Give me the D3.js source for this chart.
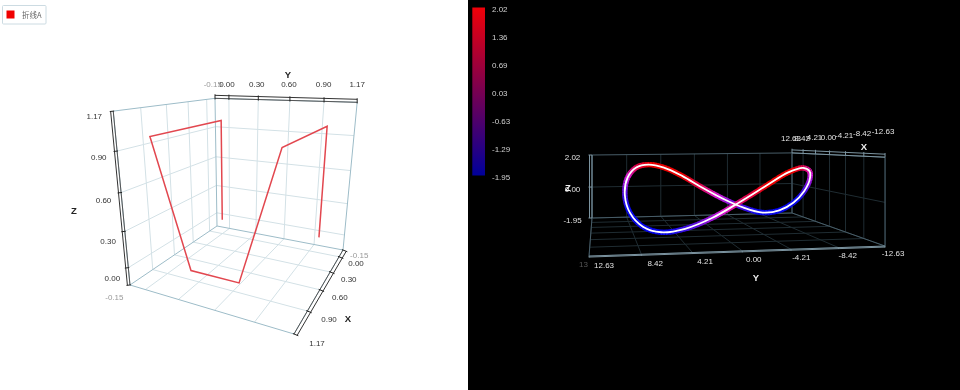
<!DOCTYPE html>
<html><head><meta charset="utf-8"><script src="https://cdn.jsdelivr.net/npm/d3@7"></script>
<style>html,body{margin:0;background:#fff;overflow:hidden}svg{display:block;filter:blur(0.35px)}text{font-family:"Liberation Sans",Arial,sans-serif}</style></head>
<body><svg id="c" width="960" height="390"></svg>
<script>
// ---- left chart data
const legendName="折线A";
const leftTicks=[0,0.3,0.6,0.9,1.17];
const leftMin=-0.15, leftMax=1.17;
const leftX=[0,0,1,1,1,1,0,0];
const leftY=[0,0,0,0.3,0.7,0.98,0.98,0.98];
const leftZ=[0,0.985,0.985,0,0,0.985,0.985,0];
// ---- right chart data
const rightTicks=[12.63,8.42,4.21,0,-4.21,-8.42,-12.63];
const rightZTicks=[2.02,0,-1.95];
const barTicks=[2.02,1.36,0.69,0.03,-0.63,-1.29,-1.95];
const curveX=[0,2.59,5,7.07,8.66,9.66,10,9.66,8.66,7.07,5,2.59,0,-2.59,-5,-7.07,-8.66,-9.66,-10,-9.66,-8.66,-7.07,-5,-2.59];
const curveY=[9.2,8.8,7.73,6.22,4.25,1.96,-0.5,-2.96,-5.25,-7.22,-8.6,-9.5,-9.8,-9.5,-8.6,-7.22,-5.25,-2.96,-0.5,1.96,4.25,6.22,7.73,8.8];
const curveZ=[0,0.85,1.35,1.47,1.25,0.7,-0.05,-0.75,-1.28,-1.53,-1.3,-0.72,0.02,0.78,1.25,1.47,1.3,0.75,0.05,-0.68,-1.22,-1.47,-1.33,-0.8];

const svg=d3.select("#c");
const project=(M,u,v,w)=>{const d=M[2][0]*u+M[2][1]*v+M[2][2]*w+1;
  return [(M[0][0]*u+M[0][1]*v+M[0][2]*w+M[0][3])/d,(M[1][0]*u+M[1][1]*v+M[1][2]*w+M[1][3])/d];};
const seg=(g,a,b,col,sw)=>g.append("line").attr("x1",a[0]).attr("y1",a[1]).attr("x2",b[0]).attr("y2",b[1]).attr("stroke",col).attr("stroke-width",sw);
const label=(g,p,txt,col,size=8,weight="normal")=>g.append("text").attr("x",p[0]).attr("y",p[1]).attr("dy","0.35em").attr("text-anchor","middle").attr("font-size",size).attr("font-weight",weight).attr("fill",col).text(txt);
const fmt=t=>t.toFixed(2);

// ================= LEFT
(function(){
 const g=svg.append("g");
 const M=[[-122.5,78.55,-23.5,217],[-18.82,-10.58,-137.5,226],[-0.27304,-0.13834,-0.1,1]];
 const s=d3.scaleLinear().domain([leftMin,leftMax]).range([0,1]);
 const P=(x,y,z)=>project(M,s(x),s(y),s(z));
 const lo=leftMin,hi=leftMax,gridC="#d3e1e6",edgeC="#9dbcc8";
 [0,0.3,0.6,0.9].forEach(t=>{
  seg(g,P(t,lo,lo),P(t,hi,lo),gridC,1);
  seg(g,P(lo,t,lo),P(hi,t,lo),gridC,1);
  seg(g,P(lo,t,lo),P(lo,t,hi),gridC,1);
  seg(g,P(t,lo,lo),P(t,lo,hi),gridC,1);
  seg(g,P(lo,lo,t),P(lo,hi,t),gridC,1);
  seg(g,P(lo,lo,t),P(hi,lo,t),gridC,1);
 });
 [[[lo,lo,lo],[lo,hi,lo]],[[lo,hi,lo],[hi,hi,lo]],[[hi,hi,lo],[hi,lo,lo]],[[hi,lo,lo],[lo,lo,lo]],
  [[lo,lo,lo],[lo,lo,hi]],[[lo,hi,lo],[lo,hi,hi]],[[hi,lo,lo],[hi,lo,hi]],[[lo,lo,hi],[lo,hi,hi]],[[lo,lo,hi],[hi,lo,hi]]]
  .forEach(e=>seg(g,P(...e[0]),P(...e[1]),edgeC,1));
 const axis=(f,off,ticks)=>{
  const a=f(lo),b=f(hi),sh=p=>[p[0]+off[0],p[1]+off[1]];
  seg(g,a,b,"#555",1);seg(g,sh(a),sh(b),"#333",1);
  ticks.forEach(t=>{const p=f(t);seg(g,[p[0]-off[0]*.35,p[1]-off[1]*.35],[p[0]+off[0]*1.35,p[1]+off[1]*1.35],"#222",1);});
 };
 axis(z=>P(hi,lo,z),[-2.6,0.3],[lo,...leftTicks]);
 axis(x=>P(x,hi,lo),[3.2,1.3],[lo,...leftTicks]);
 axis(y=>P(lo,y,hi),[0,-3],[lo,...leftTicks]);
 const line=d3.line().x(d=>d[0]).y(d=>d[1]);
 g.append("path").attr("d",line(leftX.map((x,i)=>P(x,leftY[i],leftZ[i])))).attr("fill","none").attr("stroke","#e2474f").attr("stroke-width",1.5);
 const dz=[d3.scaleLinear().domain([0,1.17]).range([-16,-19]),d3.scaleLinear().domain([0,1.17]).range([11,5])];
 const dx=[d3.scaleLinear().domain([0,1.17]).range([17,23]),d3.scaleLinear().domain([0,1.17]).range([6,9])];
 const dy=[d3.scaleLinear().domain([0,1.17]).range([-2,0]),d3.scaleLinear().domain([0,1.17]).range([-15,-18])];
 const fade="#999",txt="#333";
 [lo,...leftTicks].forEach(t=>{
  const c=t===lo?fade:txt;
  let p=P(hi,lo,t);label(g,[p[0]+dz[0](t),p[1]+dz[1](t)],fmt(t),c);
  p=P(t,hi,lo);label(g,[p[0]+dx[0](t),p[1]+dx[1](t)],fmt(t),c);
  p=P(lo,t,hi);label(g,[p[0]+dy[0](t),p[1]+dy[1](t)],fmt(t),c);
 });
 label(g,[74,211],"Z","#222",9.5,"bold");label(g,[348,319],"X","#222",9.5,"bold");label(g,[288,75],"Y","#222",9.5,"bold");
 g.append("rect").attr("x",2.5).attr("y",5.5).attr("width",43.5).attr("height",18.5).attr("rx",1).attr("fill","#fff").attr("stroke","#ccdbe2");
 g.append("rect").attr("x",6.5).attr("y",10.5).attr("width",8).attr("height",8).attr("fill","#f00000");
 g.append("text").attr("x",22).attr("y",15).attr("dy","0.35em").attr("font-size",7.5).attr("fill","#666").style("font-family",'"Noto Sans CJK SC"').text(legendName);
})();

// ================= RIGHT
(function(){
 const g=svg.append("g");
 g.append("rect").attr("x",468).attr("y",0).attr("width",492).attr("height",390).attr("fill","#000");
 const M=[[-203,238.5,0,592],[-48.9,5.35,-63,218],[-0.3396,0.0486,0,1]];
 const sx=d3.scaleLinear().domain([12.63,-12.63]).range([0,1]);
 const sz=d3.scaleLinear().domain([-1.95,2.02]).range([0,1]);
 const P=(x,y,z)=>project(M,sx(x),sx(y),sz(z));
 const H=12.63,ZL=-1.95,ZH=2.02,gridC="#1f2c32",edgeC="#485d68";
 rightTicks.forEach(t=>{
  seg(g,P(t,H,ZL),P(t,-H,ZL),gridC,1);
  seg(g,P(H,t,ZL),P(-H,t,ZL),gridC,1);
  seg(g,P(H,t,ZL),P(H,t,ZH),gridC,1);
  seg(g,P(t,-H,ZL),P(t,-H,ZH),gridC,1);
 });
 seg(g,P(H,H,0),P(H,-H,0),gridC,1);seg(g,P(H,-H,0),P(-H,-H,0),gridC,1);
 [[[H,H,ZL],[H,-H,ZL]],[[H,-H,ZL],[-H,-H,ZL]],[[H,H,ZL],[-H,H,ZL]],[[H,H,ZL],[H,H,ZH]],[[H,-H,ZL],[H,-H,ZH]],[[-H,-H,ZL],[-H,-H,ZH]],[[H,H,ZH],[H,-H,ZH]],[[H,-H,ZH],[-H,-H,ZH]]]
  .forEach(e=>seg(g,P(...e[0]),P(...e[1]),edgeC,1));
 const axC="#7c94a0";
 const axis=(a,b,off,pts)=>{const sh=p=>[p[0]+off[0],p[1]+off[1]];seg(g,a,b,axC,1);seg(g,sh(a),sh(b),axC,1);
   pts.forEach(p=>seg(g,p,[p[0]+off[0]*1.4,p[1]+off[1]*1.4],axC,1));};
 axis(P(H,H,ZL),P(H,H,ZH),[-2.5,0],rightZTicks.map(z=>P(H,H,z)));
 axis(P(H,-H,ZH),P(-H,-H,ZH),[0,-3],rightTicks.map(t=>P(t,-H,ZH)));
 axis(P(-H,H,ZL),P(-H,-H,ZL),[0,1],rightTicks.map(t=>P(-H,t,ZL)));
 const txt="#e2e2e2";
 const ox=[d3.scaleLinear().domain([12.63,0,-12.63]).range([-1,-1,-2]),d3.scaleLinear().domain([12.63,0,-12.63]).range([-15,-17,-26])];
 const oy=[d3.scaleLinear().domain([12.63,-12.63]).range([15,8]),d3.scaleLinear().domain([12.63,-12.63]).range([9,7])];
 rightTicks.forEach(t=>{
  let p=P(t,-H,ZH);label(g,[p[0]+ox[0](t),p[1]+ox[1](t)],fmt(t),txt);
  p=P(-H,t,ZL);label(g,[p[0]+oy[0](t),p[1]+oy[1](t)],fmt(t),txt);
 });
 rightZTicks.forEach(t=>{const p=P(H,H,t);label(g,[p[0]-19.5,p[1]+2.4],fmt(t),txt);});
 label(g,[583.5,264],"13","#555");
 label(g,[568,188],"Z","#eee",9.5,"bold");label(g,[864,147],"X","#eee",9.5,"bold");label(g,[756,278],"Y","#eee",9.5,"bold");
 const defs=svg.append("defs");
 defs.append("filter").attr("id","glow").attr("x","-10%").attr("y","-10%").attr("width","120%").attr("height","120%").append("feGaussianBlur").attr("stdDeviation",0.6);
 const grad=defs.append("linearGradient").attr("id","bar").attr("x1",0).attr("y1",0).attr("x2",0).attr("y2",1);
 grad.append("stop").attr("offset",0).attr("stop-color","#f00008");
 grad.append("stop").attr("offset",1).attr("stop-color","#00009a");
 const pts=curveX.map((x,i)=>P(x,curveY[i],curveZ[i]));
 const closed=d3.line().curve(d3.curveCatmullRomClosed.alpha(0.5));
 const dAttr=closed(pts);
 const hidden=g.append("path").attr("d",dAttr).attr("fill","none").node();
 const total=hidden.getTotalLength();
 const cum=[0];pts.forEach((p,i)=>{const q=pts[(i+1)%pts.length];cum.push(cum[i]+Math.hypot(q[0]-p[0],q[1]-p[1]));});
 const lenToZ=d3.scaleLinear().domain(cum.map(c=>c/cum[cum.length-1]*total)).range([...curveZ,curveZ[0]]);
 const colour=d3.scaleLinear().domain([-1.2,-0.6,0,0.6,1.2]).range(["#0808f0","#6a10e0","#d818d8","#e00850","#f00000"]).clamp(true);
 const glow=g.append("g").attr("filter","url(#glow)");
 const step=1.5;
 d3.range(0,total,step).forEach(l=>{
  const a=hidden.getPointAtLength(l),b=hidden.getPointAtLength(Math.min(total,l+step+.3));
  glow.append("line").attr("x1",a.x).attr("y1",a.y).attr("x2",b.x).attr("y2",b.y).attr("stroke",colour(lenToZ(l))).attr("stroke-width",5.4);
 });
 g.append("path").attr("d",dAttr).attr("fill","none").attr("stroke","#fff").attr("stroke-width",1.8);
 g.append("rect").attr("x",472.3).attr("y",7.5).attr("width",12.7).attr("height",168).attr("fill","url(#bar)");
 const barY=d3.scaleLinear().domain([2.02,-1.95]).range([9,177]);
 barTicks.forEach(t=>{g.append("text").attr("x",492).attr("y",barY(t)).attr("dy","0.35em").attr("font-size",8).attr("fill","#d0d0d0").text(fmt(t));});
})();
</script></body></html>
